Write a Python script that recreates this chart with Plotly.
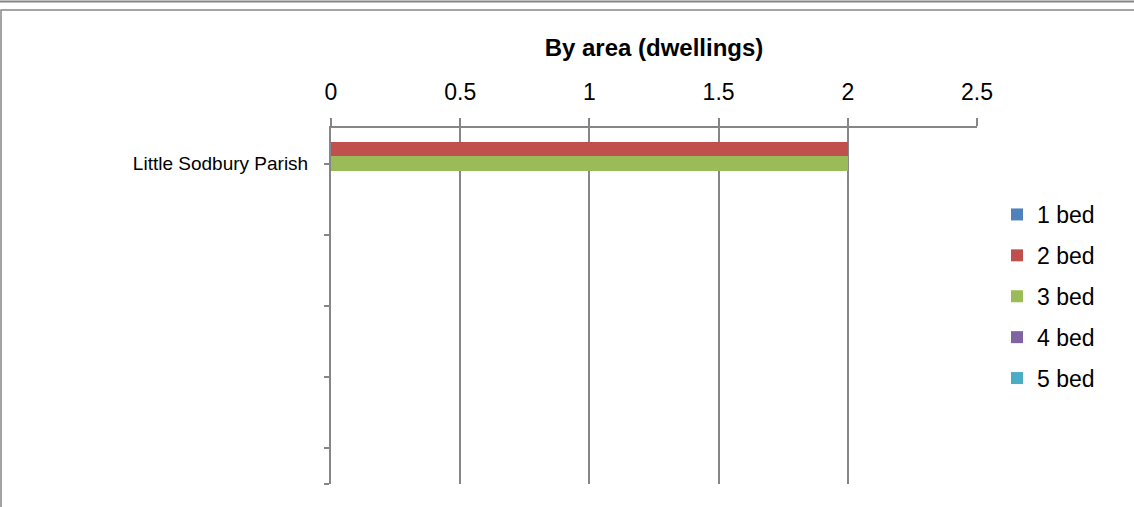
import plotly.graph_objects as go

categories = ["Little Sodbury Parish", "", "", "", ""]
series_names = ["1 bed", "2 bed", "3 bed", "4 bed", "5 bed"]
values = {
    "1 bed": [0, None, None, None, None],
    "2 bed": [2, None, None, None, None],
    "3 bed": [2, None, None, None, None],
    "4 bed": [0, None, None, None, None],
    "5 bed": [0, None, None, None, None],
}
colors = ["#4F81BD", "#C0504D", "#9BBB59", "#8064A2", "#4BACC6"]
x_ticks = [0, 0.5, 1, 1.5, 2, 2.5]

positions = list(range(len(categories)))

fig = go.Figure()
for name, col in zip(series_names, colors):
    fig.add_trace(go.Bar(
        y=positions, x=values[name], name=name, orientation="h",
        marker=dict(color=col, line=dict(width=0)),
        legendgroup=name,
    ))

PL, PR, PT, PB = 331, 977, 128, 484
PW, PH = PR - PL, PB - PT

fig.update_layout(
    width=1134, height=507,
    paper_bgcolor="white", plot_bgcolor="white",
    margin=dict(l=PL, r=1134 - PR, t=PT, b=507 - PB),
    barmode="group", bargap=0.0, bargroupgap=0.0,
    font=dict(family="Arial, Liberation Sans, sans-serif", color="black"),
    title=dict(text="<b>By area (dwellings)</b>", x=(PL + PR) / 2 / 1134, xanchor="center",
               y=1 - 48 / 507, yanchor="middle", font=dict(size=24)),
    showlegend=True,
    legend=dict(x=(997 - PL) / PW, xanchor="left", y=1 - (193 - PT) / PH, yanchor="top",
                traceorder="grouped", tracegroupgap=8,
                font=dict(size=23), itemwidth=30),
)
fig.update_xaxes(
    side="top", range=[0, 2.5], tickvals=x_ticks, ticktext=[str(t) for t in x_ticks],
    showgrid=True, gridcolor="#868686", gridwidth=1.5,
    showline=True, linecolor="#868686", linewidth=1.5,
    ticks="outside", ticklen=8, tickcolor="#868686", tickwidth=1.5,
    tickfont=dict(size=23), zeroline=False, ticklabelstandoff=9,
)
fig.update_yaxes(
    range=[len(categories) - 0.5, -0.5], tickvals=positions, ticktext=categories,
    showgrid=False, showline=True, linecolor="#868686", linewidth=2,
    ticks="outside", ticklen=5, tickcolor="#868686", tickwidth=1.5,
    tickfont=dict(size=19), ticklabelstandoff=12,
    minor=dict(tickmode="array", tickvals=[len(categories) - 0.5], ticks="outside",
               ticklen=5, tickcolor="#868686", tickwidth=1.5, showgrid=False),
)

# outer chart borders
fig.add_shape(type="line", xref="paper", yref="paper", x0=-PL / PW, x1=(1134 - PL) / PW,
              y0=1 + (PT - 1.5) / PH, y1=1 + (PT - 1.5) / PH,
              line=dict(color="#868686", width=2))
fig.add_shape(type="rect", xref="paper", yref="paper", x0=(1 - PL) / PW, x1=(1140 - PL) / PW,
              y0=-0.2, y1=1 + (PT - 10) / PH,
              line=dict(color="#868686", width=1.5), fillcolor="rgba(0,0,0,0)")

fig.write_html("out.html", config={"displayModeBar": False},
               post_script="document.body.style.margin='0px';")
